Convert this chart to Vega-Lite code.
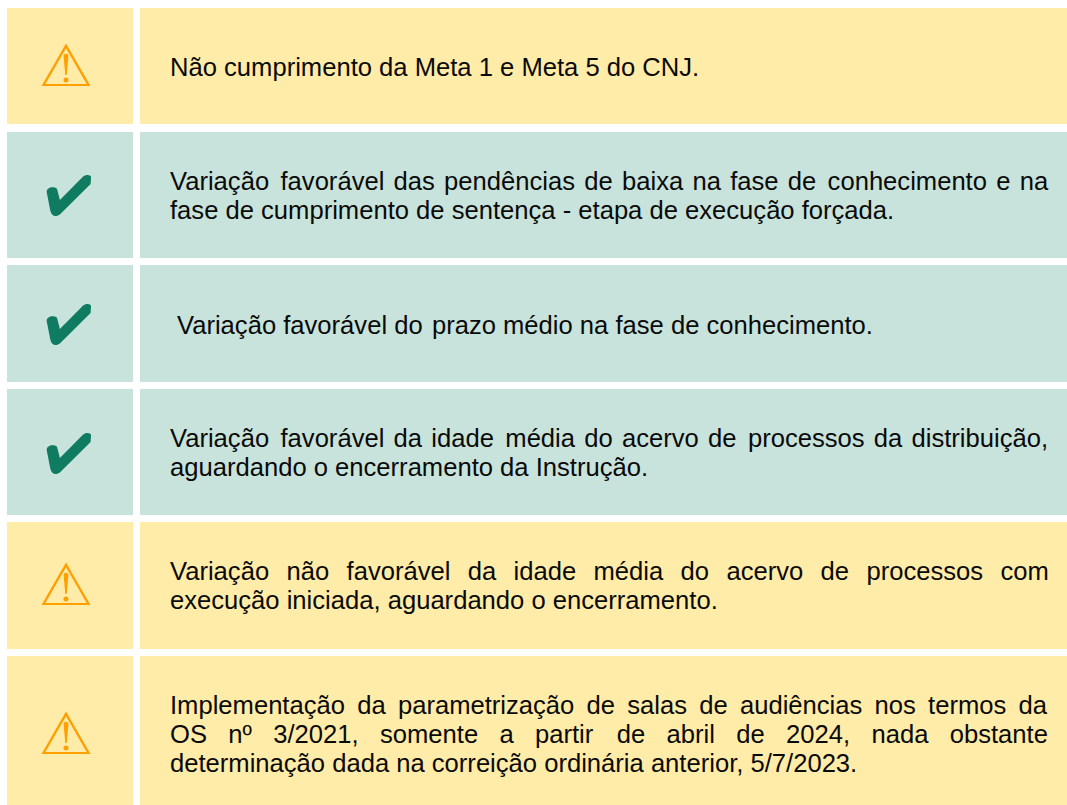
{"$schema":"https://vega.github.io/schema/vega-lite/v6.json","width":1067,"height":805,"autosize":{"type":"fit","contains":"padding"},"padding":0,"background":"white","config":{"view":{"stroke":null}},
"datasets":{"cells":[
{"a":7,"b":133,"t":8,"u":124,"k":"alerta"},{"a":140,"b":1067,"t":8,"u":124,"k":"alerta"},
{"a":7,"b":133,"t":132,"u":258,"k":"ok"},{"a":140,"b":1067,"t":132,"u":258,"k":"ok"},
{"a":7,"b":133,"t":265,"u":382,"k":"ok"},{"a":140,"b":1067,"t":265,"u":382,"k":"ok"},
{"a":7,"b":133,"t":389,"u":515,"k":"ok"},{"a":140,"b":1067,"t":389,"u":515,"k":"ok"},
{"a":7,"b":133,"t":522,"u":649,"k":"alerta"},{"a":140,"b":1067,"t":522,"u":649,"k":"alerta"},
{"a":7,"b":133,"t":656,"u":805,"k":"alerta"},{"a":140,"b":1067,"t":656,"u":805,"k":"alerta"}],
"icons":[{"c":66,"m":65,"k":"alerta"},{"c":69,"m":196,"k":"ok"},{"c":69,"m":325,"k":"ok"},{"c":69,"m":454,"k":"ok"},{"c":66,"m":584,"k":"alerta"},{"c":66,"m":733,"k":"alerta"}],
"lines":[
{"c":170,"l":76,"s":"Não cumprimento da Meta 1 e Meta 5 do CNJ."},
{"c":170,"l":190,"s":"Variação \u200a\u200afavorável \u200adas \u200apendências \u200ade \u200abaixa \u200ana \u200afase \u200ade \u200a\u200aconhecimento \u200ae \u200ana"},
{"c":170,"l":219,"s":"fase de cumprimento de sentença - etapa de execução forçada."},
{"c":177,"l":334,"s":"Variação favorável do \u200aprazo médio na fase de conhecimento."},
{"c":170,"l":447,"s":"Variação \u200a\u200afavorável \u200ada \u200aidade \u200a\u200amédia \u200ado \u200aacervo \u200ade \u200a\u200aprocessos \u200ada \u200adistribuição,"},
{"c":170,"l":476,"s":"aguardando o encerramento da Instrução."},
{"c":170,"l":580,"s":"Variação \u2009\u2009não \u2009\u2009favorável \u2009\u2009da \u2009\u2009idade \u2009\u2009média \u2009\u2009do \u2009\u2009acervo \u2009\u2009de \u2009\u2009processos \u2009\u2009com"},
{"c":170,"l":609,"s":"execução iniciada, aguardando o encerramento."},
{"c":170,"l":714,"s":"Implementação \u2009da \u2009parametrização \u2009de \u2009salas \u2009de \u2009audiências \u2009nos \u2009termos \u2009da"},
{"c":170,"l":743,"s":"OS \u00a0\u00a0nº \u00a0\u00a03/2021, \u00a0\u00a0somente \u00a0\u00a0a \u00a0\u00a0partir \u00a0\u00a0\u200ade \u00a0\u00a0abril \u00a0\u00a0de \u00a0\u00a02024, \u00a0\u00a0nada \u00a0\u00a0obstante"},
{"c":170,"l":772,"s":"determinação dada na correição ordinária anterior, 5/7/2023."}]},
"layer":[
{"data":{"name":"cells"},"mark":{"type":"rect"},"encoding":{
"x":{"field":"a","type":"quantitative","scale":{"domain":[0,1067],"range":[0,1067]},"axis":null},"x2":{"field":"b"},
"y":{"field":"t","type":"quantitative","scale":{"domain":[0,805],"range":[0,805]},"axis":null},"y2":{"field":"u"},
"color":{"field":"k","type":"nominal","scale":{"domain":["alerta","ok"],"range":["#FEECA8","#C8E3DB"]},"legend":null}}},
{"data":{"name":"icons"},"transform":[{"filter":"datum.k=='alerta'"}],"mark":{"type":"point","filled":true,"fill":"#FF9F00","stroke":null,"opacity":1,"size":2304,"shape":"M0,-0.9L1.02,0.875L-1.02,0.875ZM0,-0.7L-0.86,0.79L0.86,0.79ZM-0.1,-0.38C-0.1,-0.5,0.1,-0.5,0.1,-0.38L0.03,0.42L-0.03,0.42ZM0,0.52C0.14,0.52,0.14,0.73,0,0.73C-0.14,0.73,-0.14,0.52,0,0.52Z"},"encoding":{
"x":{"field":"c","type":"quantitative","scale":{"domain":[0,1067],"range":[0,1067]},"axis":null},
"y":{"field":"m","type":"quantitative","scale":{"domain":[0,805],"range":[0,805]},"axis":null}}},
{"data":{"name":"icons"},"transform":[{"filter":"datum.k=='ok'"}],"mark":{"type":"point","filled":true,"fill":"#0F7B60","stroke":null,"opacity":1,"size":2304,"shape":"M-0.93,-0.17C-0.93,-0.36,-0.65,-0.42,-0.5,-0.3L-0.38,0.17L0.6,-0.82C0.75,-0.92,0.9,-0.88,0.92,-0.8L0.9,-0.5L-0.36,0.75C-0.55,0.9,-0.72,0.85,-0.78,0.6Z"},"encoding":{
"x":{"field":"c","type":"quantitative","scale":{"domain":[0,1067],"range":[0,1067]},"axis":null},
"y":{"field":"m","type":"quantitative","scale":{"domain":[0,805],"range":[0,805]},"axis":null}}},
{"data":{"name":"lines"},"mark":{"type":"text","align":"left","baseline":"alphabetic","font":"Liberation Sans","fontSize":25.6,"color":"#0A0A0A"},"encoding":{
"x":{"field":"c","type":"quantitative","scale":{"domain":[0,1067],"range":[0,1067]},"axis":null},
"y":{"field":"l","type":"quantitative","scale":{"domain":[0,805],"range":[0,805]},"axis":null},
"text":{"field":"s"}}}
]}
